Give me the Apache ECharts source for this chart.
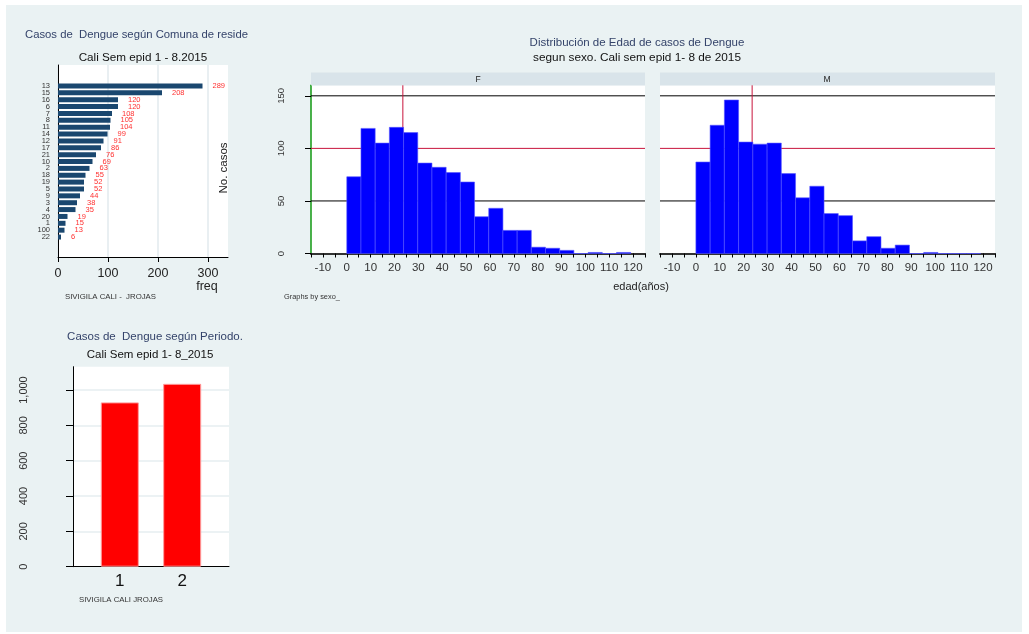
<!DOCTYPE html>
<html>
<head>
<meta charset="utf-8">
<script src="https://cdn.jsdelivr.net/npm/echarts@6/dist/echarts.min.js"></script>
<style>
  html, body { margin: 0; padding: 0; background: #fff; }
  #chart { width: 1029px; height: 634px; }
</style>
</head>
<body>
<div id="chart"></div>
<script>
// casos por comuna (de arriba hacia abajo)
const comunas = ['13', '15', '16', '6', '7', '8', '11', '14', '12', '17', '21', '10', '2', '18', '19', '5', '9', '3', '4', '20', '1', '100', '22'];
const casosComuna = [289, 208, 120, 120, 108, 105, 104, 99, 91, 86, 76, 69, 63, 55, 52, 52, 44, 38, 35, 19, 15, 13, 6];

// histograma de edad, 20 intervalos desde 0
const anchoIntervalo = 5.95;
const casosF = [73, 119, 105, 120, 115, 86, 82, 77, 68, 35, 43, 22, 22, 6, 5, 3, 0, 1, 0, 1];
const casosM = [87, 122, 146, 106, 104, 105, 76, 53, 64, 38, 36, 12, 16, 5, 8, 0, 1, 0, 0, 0];
const edadMedia = 23.5;
const lineasRef = [50, 100, 150];
const coloresRef = ['#000000', '#c8143c', '#000000'];

// casos por periodo
const periodos = [1, 2];
const casosPeriodo = [930, 1035];

const FONT = '"Liberation Sans", Arial, sans-serif';
const TITULO = '#34436a';

let chart = echarts.init(document.getElementById('chart'), null, { renderer: 'canvas' });

function histData(counts) {
  return counts.map((c, i) => [i * anchoIntervalo, (i + 1) * anchoIntervalo, c]);
}

function renderBin(params, api) {
  const p0 = api.coord([api.value(0), api.value(2)]);
  const p1 = api.coord([api.value(1), 0]);
  return {
    type: 'rect',
    shape: { x: p0[0], y: p0[1], width: p1[0] - p0[0], height: p1[1] - p0[1] },
    style: { fill: '#0000ff', stroke: '#5555ff', lineWidth: 0.6 }
  };
}

function refSeries(idx) {
  let out = lineasRef.map((v, i) => ({
    type: 'line', xAxisIndex: idx, yAxisIndex: idx, z: 1, silent: true,
    symbol: 'none', lineStyle: { color: coloresRef[i], width: 1 },
    data: [[-15, v], [125, v]]
  }));
  out.push({
    type: 'line', xAxisIndex: idx, yAxisIndex: idx, z: 1, silent: true,
    symbol: 'none', lineStyle: { color: '#c8143c', width: 1 },
    data: [[edadMedia, 0], [edadMedia, 160]]
  });
  return out;
}

const histX = (grid) => ({
  gridIndex: grid, type: 'value', min: -15, max: 125, interval: 5,
  axisLine: { onZero: false, lineStyle: { color: '#333', width: 2 } },
  axisTick: { length: 4, lineStyle: { color: '#000' } },
  axisLabel: { formatter: v => (v % 10 === 0 ? v : ''), fontSize: 11.5, color: '#333', fontFamily: FONT, margin: 8 },
  splitLine: { show: false }
});

function txt(text, x, y, size, color, align, extra) {
  return Object.assign({
    type: 'text', x: x, y: y, z: 10,
    style: { text: text, fontSize: size, fontFamily: FONT, fill: color, align: align || 'center', verticalAlign: 'middle' }
  }, extra || {});
}

chart.setOption({
  animation: false,
  backgroundColor: '#ffffff',
  grid: [
    { left: 58, top: 65, width: 170, height: 192, show: true, backgroundColor: '#fff', borderWidth: 0 },
    { left: 58, top: 82.57, width: 170, height: 157.9 },
    { left: 311, top: 85.3, width: 334, height: 168.2, show: true, backgroundColor: '#fff', borderWidth: 0 },
    { left: 660, top: 85.3, width: 335, height: 168.2, show: true, backgroundColor: '#fff', borderWidth: 0 },
    { left: 73, top: 366.7, width: 156, height: 200, show: true, backgroundColor: '#fff', borderWidth: 0 }
  ],
  xAxis: [
    {
      gridIndex: 0, type: 'value', min: 0, max: 340, interval: 100,
      axisLine: { lineStyle: { color: '#000' } },
      axisTick: { length: 5, lineStyle: { color: '#000' } },
      axisLabel: { fontSize: 12.5, color: '#222', fontFamily: FONT, margin: 10, showMaxLabel: false },
      splitLine: { show: true, showMaxLine: false, lineStyle: { color: '#e2eaee', width: 1.5 } }
    },
    { gridIndex: 1, type: 'value', min: 0, max: 340, show: false },
    histX(2),
    histX(3),
    {
      gridIndex: 4, type: 'value', min: 0.25, max: 2.75, interval: 0.25,
      axisLine: { onZero: false, lineStyle: { color: '#000' } },
      axisTick: { show: false },
      axisLabel: { formatter: v => (Number.isInteger(v) ? v : ''), fontSize: 17, color: '#111', fontFamily: FONT, margin: 6 },
      splitLine: { show: false }
    }
  ],
  yAxis: [
    {
      gridIndex: 0, type: 'value', min: 0, max: 1,
      axisLine: { show: true, onZero: false, lineStyle: { color: '#000' } },
      axisTick: { show: false }, axisLabel: { show: false }, splitLine: { show: false }
    },
    {
      gridIndex: 1, type: 'category', data: comunas, inverse: true,
      axisLine: { show: false }, axisTick: { show: false },
      axisLabel: { fontSize: 7.5, color: '#333', fontFamily: FONT, margin: 8, interval: 0 }
    },
    {
      gridIndex: 2, type: 'value', min: 0, max: 160, interval: 50,
      axisLine: { show: true, onZero: false, lineStyle: { color: '#119911', width: 1.5 } },
      axisTick: { show: true, length: 6, lineStyle: { color: '#000' } },
      axisLabel: { rotate: 90, fontSize: 9.5, color: '#333', fontFamily: FONT, margin: 25, showMaxLabel: false },
      splitLine: { show: false }
    },
    {
      gridIndex: 3, type: 'value', min: 0, max: 160, interval: 50,
      axisLine: { show: false }, axisTick: { show: false }, axisLabel: { show: false }, splitLine: { show: false }
    },
    {
      gridIndex: 4, type: 'value', min: 0, max: 1132, interval: 200,
      axisLine: { show: true, onZero: false, lineStyle: { color: '#000' } },
      axisTick: { show: true, length: 7, lineStyle: { color: '#000' } },
      axisLabel: {
        rotate: 90, fontSize: 11, color: '#333', fontFamily: FONT, margin: 44, showMaxLabel: false,
        formatter: v => v.toLocaleString('en-US')
      },
      splitLine: { show: true, showMaxLine: false, showMinLine: false, lineStyle: { color: '#e6eef1', width: 1.5 } }
    }
  ],
  series: [
    {
      type: 'bar', xAxisIndex: 1, yAxisIndex: 1, data: casosComuna, barWidth: 5,
      itemStyle: { color: '#1a476f' },
      label: { show: true, position: 'right', distance: 10, color: '#ff3030', fontSize: 7.5, fontFamily: FONT }
    },
    ...refSeries(2),
    { type: 'custom', xAxisIndex: 2, yAxisIndex: 2, z: 3, renderItem: renderBin, data: histData(casosF) },
    ...refSeries(3),
    { type: 'custom', xAxisIndex: 3, yAxisIndex: 3, z: 3, renderItem: renderBin, data: histData(casosM) },
    {
      type: 'bar', xAxisIndex: 4, yAxisIndex: 4, barWidth: 38,
      data: periodos.map((p, i) => [p, casosPeriodo[i]]),
      itemStyle: { color: '#ff0000', borderColor: '#ff9c9c', borderWidth: 1 }
    }
  ],
  graphic: [
    { type: 'rect', z: -10, shape: { x: 6, y: 5, width: 1016, height: 627 }, style: { fill: '#eaf2f3' } },
    { type: 'rect', z: 1, shape: { x: 311, y: 72.5, width: 334, height: 13 }, style: { fill: '#d9e4ea' } },
    { type: 'rect', z: 1, shape: { x: 660, y: 72.5, width: 335, height: 13 }, style: { fill: '#d9e4ea' } },
    txt('F', 478, 79.5, 8.5, '#222'),
    txt('M', 827, 79.5, 8.5, '#222'),
    txt('Casos de  Dengue según Comuna de reside', 25, 35, 11.3, TITULO, 'left'),
    txt('Cali Sem epid 1 - 8.2015', 143, 57.5, 11.7, '#111'),
    txt('freq', 207, 287, 12.5, '#222'),
    txt('SIVIGILA CALI -  JROJAS', 65, 297, 7.8, '#333', 'left'),
    txt('No. casos', 224, 168, 11.5, '#222', 'center', { rotation: Math.PI / 2 }),
    txt('Distribución de Edad de casos de Dengue', 637, 43, 11.5, TITULO),
    txt('segun sexo. Cali sem epid 1- 8 de 2015', 637, 58, 11.8, '#111'),
    txt('edad(años)', 641, 287, 11, '#222'),
    txt('Graphs by sexo_', 284, 297, 7.4, '#333', 'left'),
    txt('Casos de  Dengue según Periodo.', 155, 337, 11.5, TITULO),
    txt('Cali Sem epid 1- 8_2015', 150, 354.5, 11.5, '#111'),
    txt('SIVIGILA CALI JROJAS', 79, 600, 7.8, '#333', 'left')
  ]
});
</script>
</body>
</html>
